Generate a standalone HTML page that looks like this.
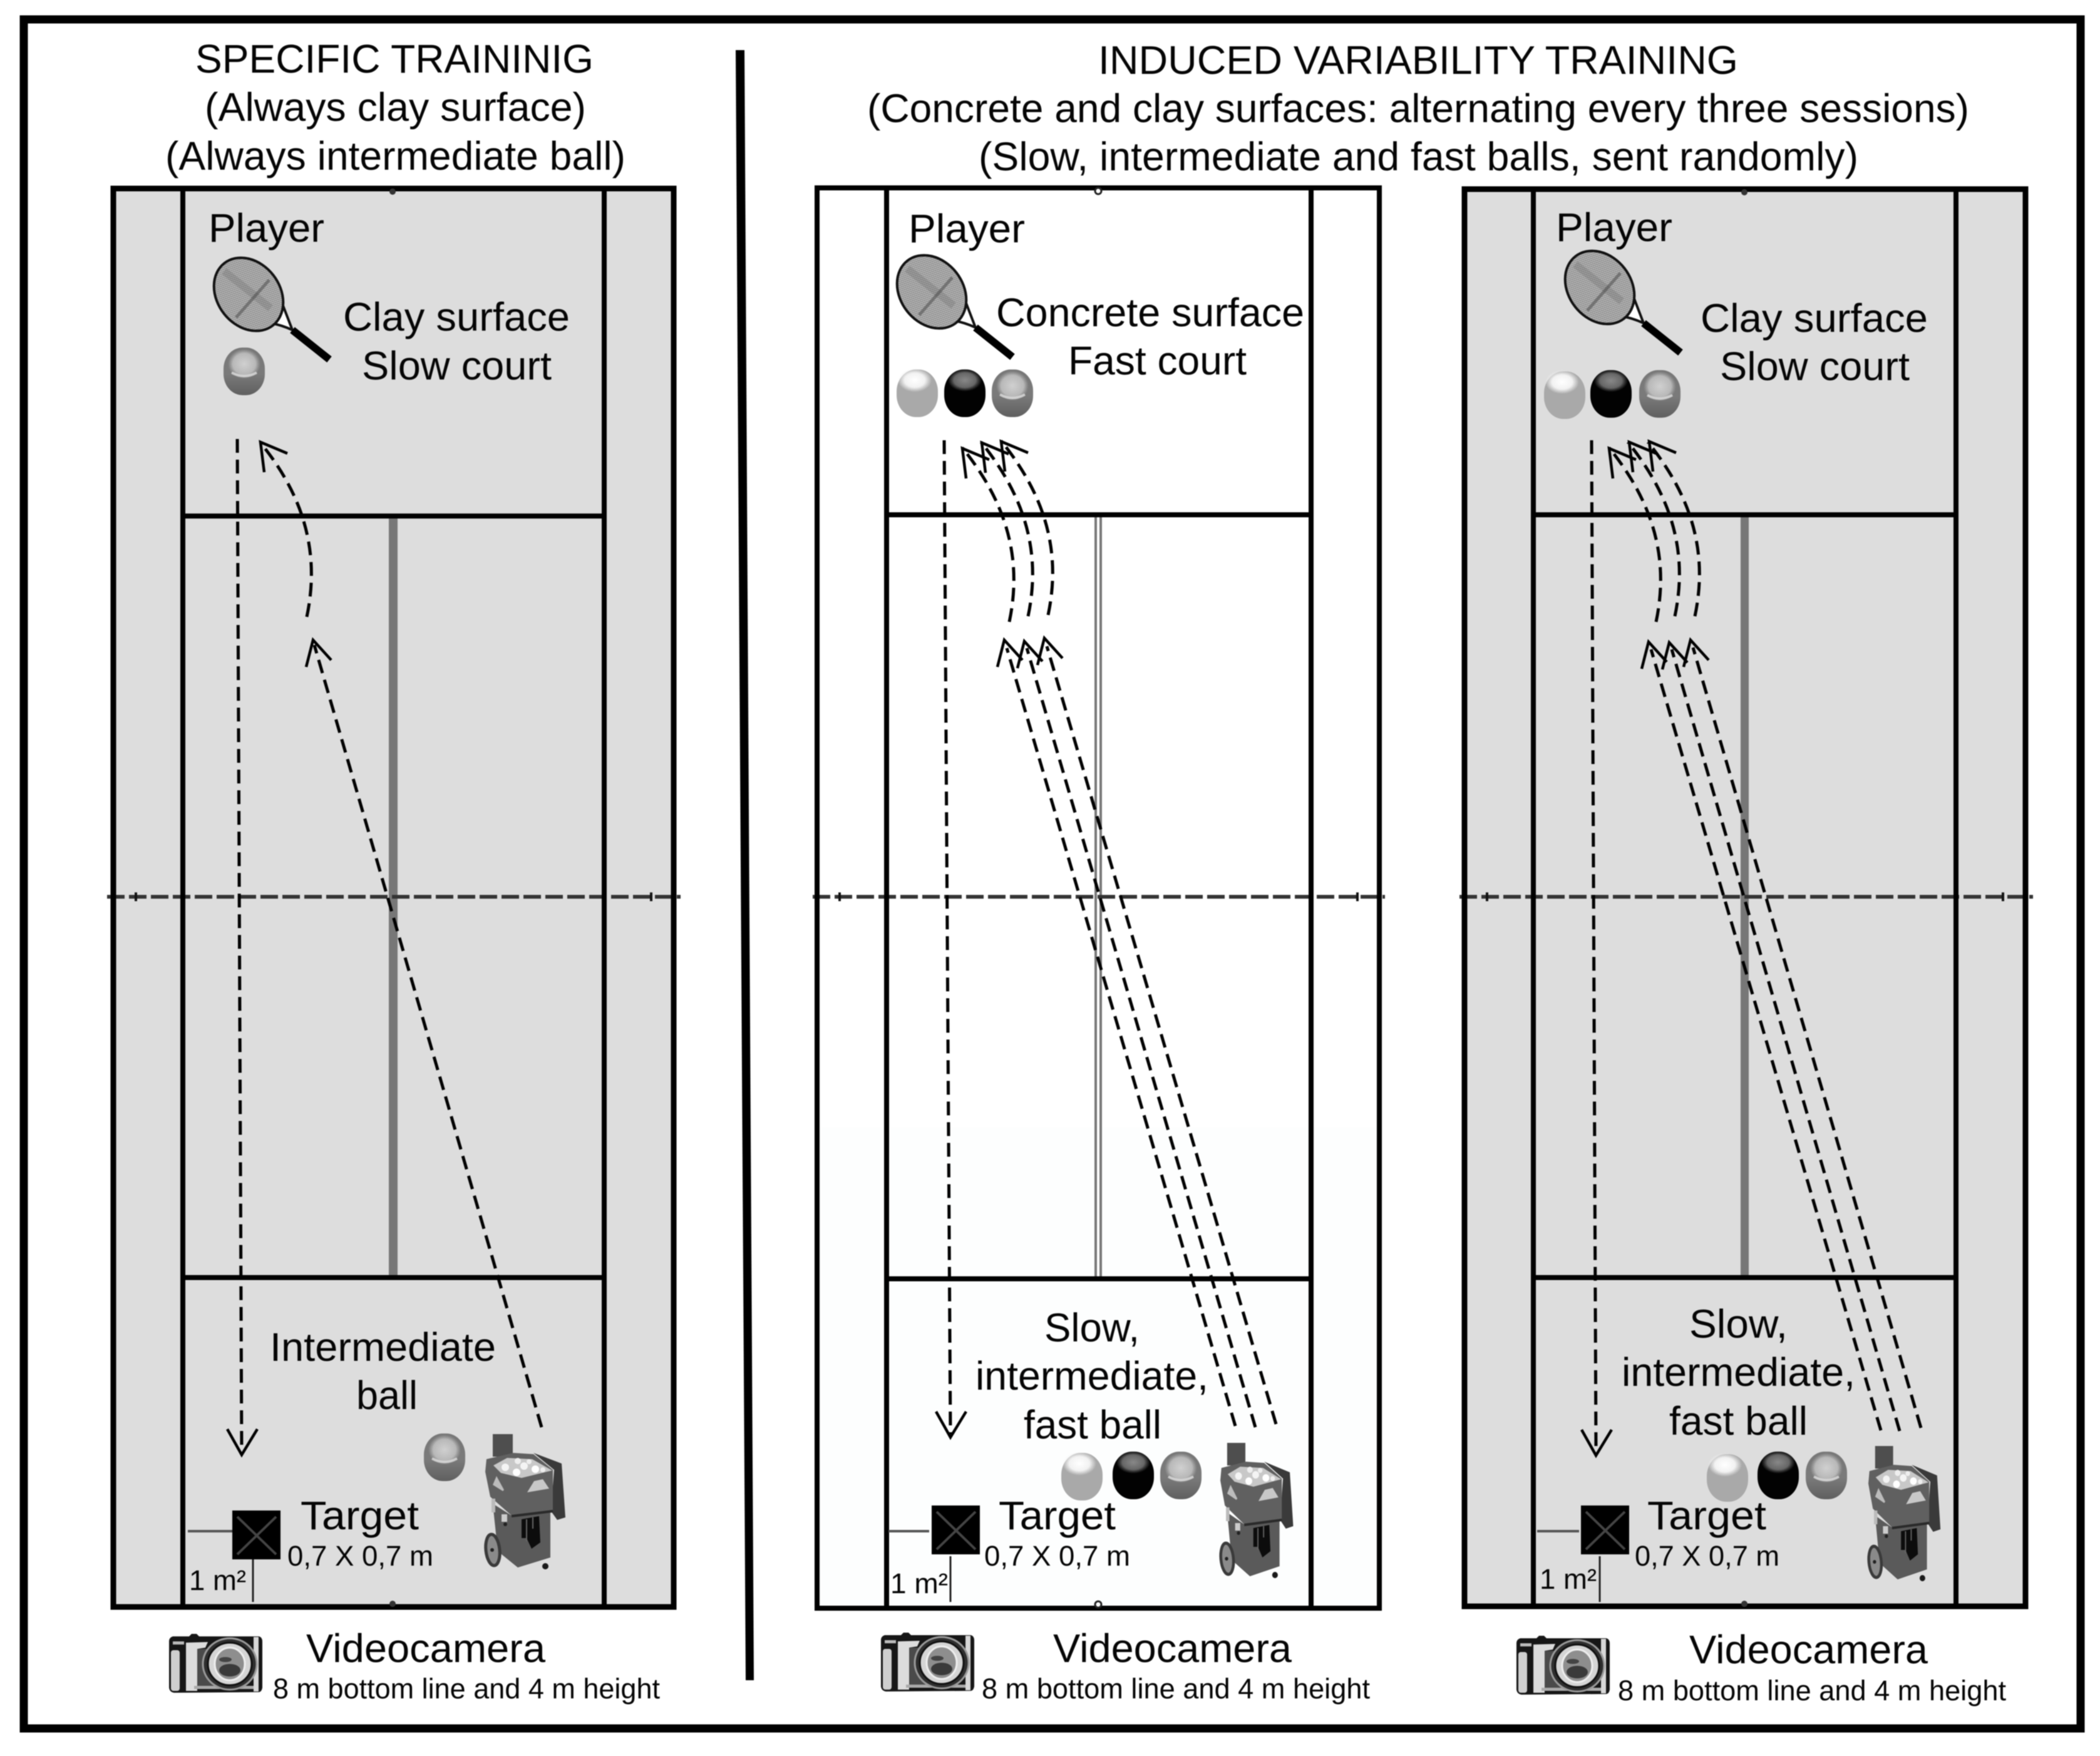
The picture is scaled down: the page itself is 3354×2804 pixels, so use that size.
<!DOCTYPE html>
<html><head><meta charset="utf-8"><style>
html,body{margin:0;padding:0;background:#fff;width:3354px;height:2804px;overflow:hidden}
svg{display:block;filter:blur(.8px)}
text{font-family:"Liberation Sans",Arial,sans-serif;font-size:64px;fill:#050505}
.s{font-size:45px}
</style></head><body>
<svg xmlns="http://www.w3.org/2000/svg" width="3354" height="2804" viewBox="0 0 3354 2804">
<defs>
<pattern id="hat" width="3" height="3" patternUnits="userSpaceOnUse" patternTransform="rotate(18)"><rect width="3" height="3" fill="#bbb"/><path d="M0 0H3" stroke="#555" stroke-width="1.1"/><path d="M0 0V3" stroke="#777" stroke-width=".7"/></pattern>
<radialGradient id="gW"><stop offset="0" stop-color="#fff"/><stop offset=".6" stop-color="#f2f2f2"/><stop offset="1" stop-color="#f2f2f2" stop-opacity="0"/></radialGradient>
<radialGradient id="gD"><stop offset="0" stop-color="#888"/><stop offset=".65" stop-color="#666"/><stop offset="1" stop-color="#555" stop-opacity="0"/></radialGradient>
<radialGradient id="gI"><stop offset="0" stop-color="#d0d0d0"/><stop offset=".7" stop-color="#b8b8b8"/><stop offset="1" stop-color="#aaa" stop-opacity="0"/></radialGradient>
<linearGradient id="gB" x1="0" y1="0" x2="0" y2="1"><stop offset="0" stop-color="#777"/><stop offset=".55" stop-color="#7a7a7a"/><stop offset="1" stop-color="#5f5f5f"/></linearGradient>

<g id="bL"><rect x="-33" y="-38" width="66" height="76" rx="31" ry="35" fill="#a9a9a9"/><ellipse cx="-4" cy="-21" rx="27" ry="19" fill="url(#gW)"/></g>
<g id="bD"><rect x="-33" y="-38" width="66" height="76" rx="31" ry="35" fill="#020202"/><ellipse cx="0" cy="-21" rx="27" ry="18" fill="url(#gD)"/></g>
<g id="bI"><rect x="-33" y="-38" width="66" height="76" rx="30" ry="34" fill="url(#gB)"/><ellipse cx="0" cy="-12" rx="26" ry="24" fill="url(#gI)"/><path d="M-20,2 Q0,13 20,2" fill="none" stroke="#ddd" stroke-width="4" opacity=".8"/></g>

<g id="racket">
<path d="M437,518 L467,525 L454,495 Z" fill="#fff"/>
<path d="M432,516 Q450,519 467,527 L452,488" fill="none" stroke="#111" stroke-width="4"/>
<line x1="467" y1="527" x2="526" y2="574" stroke="#000" stroke-width="12"/>
<ellipse cx="397" cy="470" rx="50" ry="63" transform="rotate(-38 397 470)" fill="url(#hat)" stroke="#111" stroke-width="4"/>
<line x1="377" y1="507" x2="430" y2="447" stroke="#444" stroke-width="5" opacity=".5"/>
<line x1="358" y1="433" x2="432" y2="492" stroke="#444" stroke-width="12" opacity=".18"/>
</g>

<g id="tgt">
<rect x="0" y="0" width="77" height="78" fill="#000"/>
<path d="M8,10 L70,70 M70,10 L8,70" stroke="#444" stroke-width="4"/>
</g>

<g id="mach">
<rect x="12" y="-1" width="32" height="36" fill="#4e4e4e"/>
<path d="M77,29 L122,46 L128,132 L115,136 L105,122 L110,56 Z" fill="#3a3a3a"/>
<path d="M2,39 L45,29 L77,31 L108,56 L108,122 L42,129 L8,99 L0,59 Z" fill="#606060"/>
<path d="M13,49 L35,37 L75,39 L107,57 L58,69 L25,61 Z" fill="#c8c8c8"/>
<circle cx="32" cy="52" r="6" fill="#f4f4f4"/><circle cx="50" cy="60" r="6" fill="#fff"/><circle cx="62" cy="50" r="6" fill="#f4f4f4"/><circle cx="80" cy="55" r="6" fill="#fff"/><circle cx="52" cy="42" r="5" fill="#eee"/><circle cx="70" cy="43" r="4" fill="#eee"/><circle cx="92" cy="56" r="4" fill="#eee"/>
<path d="M12,80 L18,66 L30,88 L28,90 Z" fill="#bcbcbc"/>
<path d="M67,92 L102,86 L92,71 L78,74 Z" fill="#c8c8c8"/>
<path d="M12,110 L42,129 L104,122 L104,196 L52,212 L20,186 Z" fill="#5a5a5a"/>
<path d="M42,130 L108,122" stroke="#2a2a2a" stroke-width="4"/>
<path d="M58,135 L86,130 L88,172 L74,182 L66,165 L58,165 Z" fill="#0c0c0c"/>
<path d="M66,135 V170 M76,132 V150" stroke="#666" stroke-width="2"/>
<rect x="10" y="102" width="6" height="22" fill="#bbb"/><rect x="26" y="127" width="9" height="12" fill="#ccc"/><circle cx="32" cy="143" r="3" fill="#222"/>
<ellipse cx="12" cy="184" rx="11" ry="25" transform="rotate(-6 12 184)" fill="#8a8a8a" stroke="#3a3a3a" stroke-width="5"/>
<circle cx="11" cy="184" r="3" fill="#222"/>
<circle cx="96" cy="210" r="5" fill="#1a1a1a"/>
</g>

<g id="camera">
<path d="M34,4 L38,0 L46,0 L50,4 L146,4 Q151,6 151,12 L151,86 Q150,92 146,93 L10,94 Q3,93 2,86 L2,12 Q2,6 8,4 Z" fill="#161616"/>
<rect x="5" y="26" width="14" height="65" rx="4" fill="#cfcfcf"/>
<rect x="8" y="12" width="18" height="5" fill="#bbb"/>
<path d="M29,14 L64,13 L60,22 L47,24 L47,91 L29,91 Z" fill="#dcdcdc"/>
<rect x="47" y="24" width="30" height="60" fill="#4a4a4a"/>
<rect x="137" y="5" width="8" height="87" fill="#d8d8d8"/>
<rect x="42" y="83" width="95" height="5" fill="#aaa"/>
<ellipse cx="99" cy="48" rx="43" ry="41" fill="#2e2e2e" stroke="#9a9a9a" stroke-width="3"/>
<ellipse cx="99" cy="48" rx="35" ry="34" fill="#d5d5d5" stroke="#111" stroke-width="3"/>
<ellipse cx="99" cy="48" rx="24" ry="26" fill="#8e8e8e" stroke="#eee" stroke-width="3"/>
<ellipse cx="99" cy="58" rx="17" ry="10" fill="#3a3a3a"/>
<ellipse cx="92" cy="41" rx="10" ry="4" fill="#444"/>
</g>

<polyline id="h1" points="6,48 0,0 43,18" fill="none"/>
<polyline id="h2" points="-11,43 0,0 29,32" fill="none"/>
<polyline id="h3" points="-23,-41 0,0 25,-41" fill="none"/>
<path id="cv" d="M0,0 c20,-95 0,-185 -75,-278" fill="none"/>
</defs>

<rect width="3354" height="2804" fill="#fff"/>

<!-- frame -->
<rect x="38" y="31" width="3285" height="2729" fill="none" stroke="#000" stroke-width="13"/>
<polygon points="1175,80 1189,80 1204,2683 1191,2683" fill="#000"/>

<!-- COURT 1 -->
<rect x="181" y="301" width="895" height="2265" fill="#dddddd"/>
<rect x="621" y="828" width="14" height="1208" fill="#777"/>
<line x1="171" y1="1432" x2="1087" y2="1432" stroke="#333" stroke-width="6" stroke-dasharray="28 7"/>
<path d="M217,1425v14M1040,1425v14" stroke="#111" stroke-width="4"/>
<rect x="181" y="301" width="895" height="2265" fill="none" stroke="#000" stroke-width="9"/>
<path d="M292,301V2566M965,301V2566M292,824H965M292,2040H965" fill="none" stroke="#000" stroke-width="8"/>
<circle cx="627" cy="306" r="5" fill="#333"/><circle cx="627" cy="2561" r="5" fill="#333"/>

<!-- COURT 2 -->
<rect x="1305" y="300" width="898" height="2268" fill="#fff"/>
<rect x="1305" y="1800" width="898" height="768" fill="#fdfefe"/>
<rect x="1748" y="826" width="12" height="1212" fill="#777"/><rect x="1752" y="826" width="4" height="1212" fill="#fff"/>
<line x1="1298" y1="1432" x2="2212" y2="1432" stroke="#333" stroke-width="6" stroke-dasharray="28 7"/>
<path d="M1341,1425v14M2168,1425v14" stroke="#111" stroke-width="4"/>
<rect x="1305" y="300" width="898" height="2268" fill="none" stroke="#000" stroke-width="8"/>
<path d="M1416,300V2568M2094,300V2568M1416,822H2094M1416,2042H2094" fill="none" stroke="#000" stroke-width="8"/>
<circle cx="1754" cy="305" r="5" fill="#fff" stroke="#222" stroke-width="3"/><circle cx="1754" cy="2562" r="5" fill="#fff" stroke="#222" stroke-width="3"/>

<!-- COURT 3 -->
<rect x="2339" y="302" width="896" height="2263" fill="#dddddd"/>
<rect x="2780" y="826" width="13" height="1210" fill="#777"/>
<line x1="2331" y1="1432" x2="3247" y2="1432" stroke="#333" stroke-width="6" stroke-dasharray="28 7"/>
<path d="M2375,1425v14M3199,1425v14" stroke="#111" stroke-width="4"/>
<rect x="2339" y="302" width="896" height="2263" fill="none" stroke="#000" stroke-width="9"/>
<path d="M2449,302V2565M3124,302V2565M2449,822H3124M2449,2040H3124" fill="none" stroke="#000" stroke-width="8"/>
<circle cx="2786" cy="307" r="5" fill="#333"/><circle cx="2786" cy="2561" r="5" fill="#333"/>

<!-- dashed arrows -->
<g fill="none" stroke="#000" stroke-width="5" stroke-dasharray="22 11">
<path d="M379,701 L386,2318"/>
<path d="M490,985 C510,890 490,800 420,712"/>
<path d="M865,2279 L502,1030"/>
<path d="M1508,703 L1518,2290"/>
<use href="#cv" transform="translate(1612,993)"/>
<use href="#cv" transform="translate(1642,984)"/>
<use href="#cv" transform="translate(1674,982)"/>
<path d="M1973,2277 L1608,1035"/>
<path d="M2005,2279 L1640,1035"/>
<path d="M2038,2274 L1672,1032"/>
<path d="M2542,703 L2549,2318"/>
<use href="#cv" transform="translate(2645,993)"/>
<use href="#cv" transform="translate(2675,984)"/>
<use href="#cv" transform="translate(2707,984)"/>
<path d="M3004,2284 L2637,1037"/>
<path d="M3034,2285 L2670,1037"/>
<path d="M3068,2280 L2704,1034"/>
</g>
<g stroke="#000" stroke-width="4.5" fill="none">
<use href="#h3" x="386" y="2323"/><use href="#h1" x="416" y="706"/><use href="#h2" x="500" y="1022"/>
<use href="#h3" x="1518" y="2295"/>
<use href="#h1" x="1537" y="716"/><use href="#h1" x="1568" y="707"/><use href="#h1" x="1599" y="705"/>
<use href="#h2" x="1604" y="1022"/><use href="#h2" x="1636" y="1024"/><use href="#h2" x="1668" y="1019"/>
<use href="#h3" x="2549" y="2324"/>
<use href="#h1" x="2570" y="716"/><use href="#h1" x="2602" y="706"/><use href="#h1" x="2634" y="705"/>
<use href="#h2" x="2633" y="1025"/><use href="#h2" x="2666" y="1026"/><use href="#h2" x="2700" y="1022"/>
</g>

<!-- rackets -->
<use href="#racket"/>
<use href="#racket" transform="translate(1091,-4)"/>
<use href="#racket" transform="translate(2158,-11)"/>

<!-- balls -->
<use href="#bI" x="390" y="593"/>
<use href="#bI" x="710" y="2327"/>
<use href="#bL" x="1465" y="628"/>
<use href="#bD" x="1541" y="628"/>
<use href="#bI" x="1617" y="628"/>
<use href="#bL" x="2499" y="631"/>
<use href="#bD" x="2573" y="629"/>
<use href="#bI" x="2651" y="629"/>
<use href="#bL" x="1728" y="2358"/>
<use href="#bD" x="1810" y="2356"/>
<use href="#bI" x="1886" y="2356"/>
<use href="#bL" x="2759" y="2360"/>
<use href="#bD" x="2840" y="2356"/>
<use href="#bI" x="2917" y="2356"/>

<!-- machines -->
<use href="#mach" transform="translate(775,2291)"/>
<use href="#mach" transform="translate(1949,2305) scale(.91,1)"/>
<use href="#mach" transform="translate(2984,2310) scale(.9,1)"/>

<!-- targets -->
<use href="#tgt" x="371" y="2412"/>
<use href="#tgt" x="1488" y="2404"/>
<use href="#tgt" x="2525" y="2404"/>
<path d="M300,2445H371M1419,2445H1484M2455,2445H2522" stroke="#555" stroke-width="4"/>
<path d="M404,2490V2558M1518,2485V2558M2555,2485V2558" stroke="#222" stroke-width="3"/>

<!-- cameras -->
<use href="#camera" transform="translate(268,2609)"/>
<use href="#camera" transform="translate(1405,2607)"/>
<use href="#camera" transform="translate(2420,2612)"/>

<!-- titles -->
<text x="312" y="116" textLength="636" lengthAdjust="spacingAndGlyphs">SPECIFIC TRAININIG</text>
<text x="327" y="193" textLength="609" lengthAdjust="spacingAndGlyphs">(Always clay surface)</text>
<text x="264" y="271" textLength="735" lengthAdjust="spacingAndGlyphs">(Always intermediate ball)</text>
<text x="1754" y="118" textLength="1022" lengthAdjust="spacingAndGlyphs">INDUCED VARIABILITY TRAINING</text>
<text x="1385" y="195" textLength="1760" lengthAdjust="spacingAndGlyphs">(Concrete and clay surfaces: alternating every three sessions)</text>
<text x="1563" y="272" textLength="1405" lengthAdjust="spacingAndGlyphs">(Slow, intermediate and fast balls, sent randomly)</text>

<!-- panel 1 labels -->
<text x="333" y="386" textLength="185" lengthAdjust="spacingAndGlyphs">Player</text>
<text x="548" y="528" textLength="362" lengthAdjust="spacingAndGlyphs">Clay surface</text>
<text x="578" y="606" textLength="303" lengthAdjust="spacingAndGlyphs">Slow court</text>
<text x="431" y="2173" textLength="361" lengthAdjust="spacingAndGlyphs">Intermediate</text>
<text x="569" y="2250" textLength="98" lengthAdjust="spacingAndGlyphs">ball</text>
<text x="480" y="2442" textLength="189" lengthAdjust="spacingAndGlyphs">Target</text>
<text class="s" x="459" y="2500" textLength="233" lengthAdjust="spacingAndGlyphs">0,7 X 0,7 m</text>
<text class="s" x="302" y="2539" textLength="91" lengthAdjust="spacingAndGlyphs">1 m²</text>
<text x="489" y="2654" textLength="382" lengthAdjust="spacingAndGlyphs">Videocamera</text>
<text class="s" x="436" y="2712" textLength="618" lengthAdjust="spacingAndGlyphs">8 m bottom line and 4 m height</text>

<!-- panel 2 labels -->
<text x="1451" y="387" textLength="186" lengthAdjust="spacingAndGlyphs">Player</text>
<text x="1591" y="521" textLength="492" lengthAdjust="spacingAndGlyphs">Concrete surface</text>
<text x="1706" y="598" textLength="285" lengthAdjust="spacingAndGlyphs">Fast court</text>
<text x="1668" y="2142" textLength="152" lengthAdjust="spacingAndGlyphs">Slow,</text>
<text x="1558" y="2219" textLength="372" lengthAdjust="spacingAndGlyphs">intermediate,</text>
<text x="1635" y="2297" textLength="220" lengthAdjust="spacingAndGlyphs">fast ball</text>
<text x="1595" y="2442" textLength="187" lengthAdjust="spacingAndGlyphs">Target</text>
<text class="s" x="1572" y="2500" textLength="233" lengthAdjust="spacingAndGlyphs">0,7 X 0,7 m</text>
<text class="s" x="1422" y="2544" textLength="92" lengthAdjust="spacingAndGlyphs">1 m²</text>
<text x="1682" y="2654" textLength="381" lengthAdjust="spacingAndGlyphs">Videocamera</text>
<text class="s" x="1568" y="2712" textLength="620" lengthAdjust="spacingAndGlyphs">8 m bottom line and 4 m height</text>

<!-- panel 3 labels -->
<text x="2485" y="385" textLength="186" lengthAdjust="spacingAndGlyphs">Player</text>
<text x="2716" y="530" textLength="363" lengthAdjust="spacingAndGlyphs">Clay surface</text>
<text x="2747" y="607" textLength="303" lengthAdjust="spacingAndGlyphs">Slow court</text>
<text x="2698" y="2136" textLength="157" lengthAdjust="spacingAndGlyphs">Slow,</text>
<text x="2590" y="2213" textLength="373" lengthAdjust="spacingAndGlyphs">intermediate,</text>
<text x="2666" y="2291" textLength="221" lengthAdjust="spacingAndGlyphs">fast ball</text>
<text x="2631" y="2442" textLength="190" lengthAdjust="spacingAndGlyphs">Target</text>
<text class="s" x="2611" y="2500" textLength="231" lengthAdjust="spacingAndGlyphs">0,7 X 0,7 m</text>
<text class="s" x="2459" y="2537" textLength="91" lengthAdjust="spacingAndGlyphs">1 m²</text>
<text x="2698" y="2656" textLength="381" lengthAdjust="spacingAndGlyphs">Videocamera</text>
<text class="s" x="2584" y="2715" textLength="620" lengthAdjust="spacingAndGlyphs">8 m bottom line and 4 m height</text>
</svg>
</body></html>
